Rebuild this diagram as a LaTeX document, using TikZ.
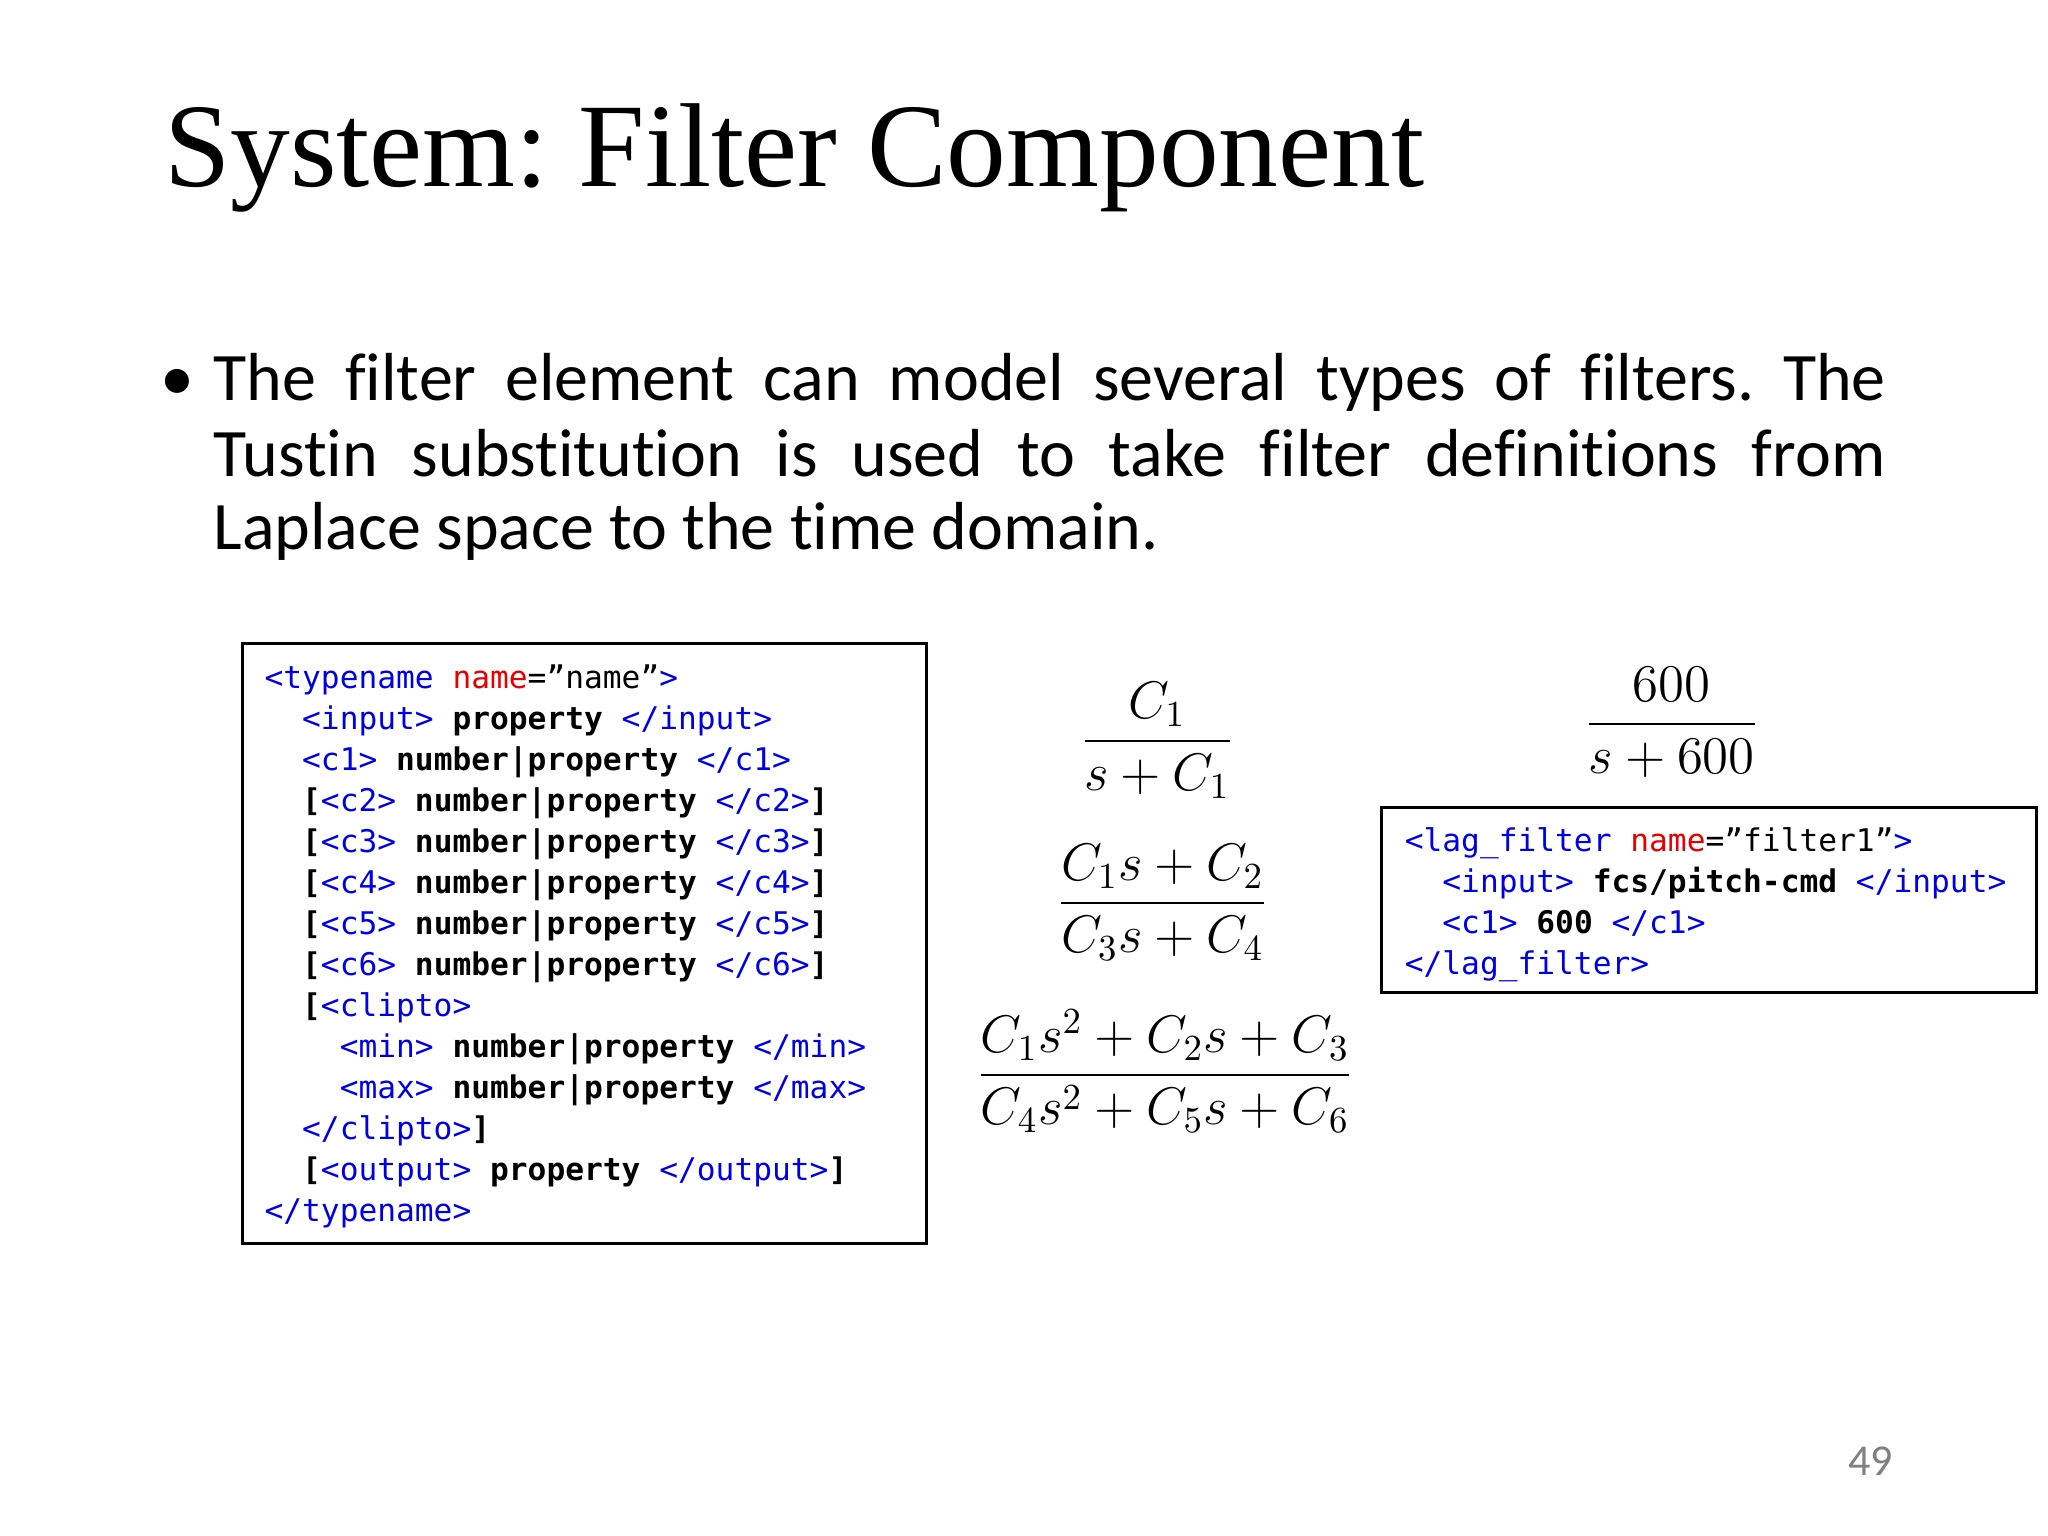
\documentclass[tikz,border=0pt]{standalone}
\usepackage{fontspec}
\setmainfont{Liberation Serif}
\newfontfamily\bodyfont[Ligatures=NoCommon]{Carlito}
\newfontfamily\codefont{DejaVu Sans Mono}
\definecolor{tagblue}{RGB}{0,0,230}
\definecolor{attrred}{RGB}{230,0,0}
\definecolor{pgray}{RGB}{128,128,128}
\newcommand\tg[1]{\textcolor{tagblue}{#1}}
\newcommand\at[1]{\textcolor{attrred}{#1}}
\newcommand\bd[1]{\textbf{#1}}
\tikzset{
 codeline/.style={anchor=base west,inner sep=0pt,font=\codefont\fontsize{8.5}{10}\selectfont},
 bodyline/.style={anchor=base west,inner sep=0pt,font=\bodyfont\fontsize{18.5}{20}\selectfont},
 codebox/.style={draw=black,line width=0.8pt},
 fracnode/.style={inner sep=0pt,font=\fontsize{14}{17}\selectfont}
}
\begin{document}
\frenchspacing
\begin{tikzpicture}[x=0.0125cm,y=-0.0125cm]
\useasboundingbox[fill=white] (0,0) rectangle (1568,1176);
\node[anchor=base west,inner sep=0pt,font=\fontsize{32.5}{38}\selectfont] (title) at (125,143) {System: Filter Component};
\node[bodyline] (bul) at (122,307) {•};
\node[bodyline] (l1) at (163,307) {\makebox[16cm][s]{The filter element can model several types of filters. The}};
\node[bodyline] (l2) at (163,365) {\makebox[16cm][s]{Tustin substitution is used to take filter definitions from}};
\node[bodyline] (l3) at (163,421) {Laplace space to the time domain.};
% left box
\draw[codebox] (186,493) rectangle (709,952);
\node[codeline] (c1) at (202,527) {\tg{<typename} \at{name}=”name”\tg{>}};
\node[codeline] (c2) at (202,558.4) {\ \ \tg{<input>} \bd{property} \tg{</input>}};
\node[codeline] (c3) at (202,589.8) {\ \ \tg{<c1>} \bd{number|property} \tg{</c1>}};
\node[codeline] (c4) at (202,621.2) {\ \ \bd{[}\tg{<c2>} \bd{number|property} \tg{</c2>}\bd{]}};
\node[codeline] (c5) at (202,652.6) {\ \ \bd{[}\tg{<c3>} \bd{number|property} \tg{</c3>}\bd{]}};
\node[codeline] (c6) at (202,684) {\ \ \bd{[}\tg{<c4>} \bd{number|property} \tg{</c4>}\bd{]}};
\node[codeline] (c7) at (202,715.4) {\ \ \bd{[}\tg{<c5>} \bd{number|property} \tg{</c5>}\bd{]}};
\node[codeline] (c8) at (202,746.8) {\ \ \bd{[}\tg{<c6>} \bd{number|property} \tg{</c6>}\bd{]}};
\node[codeline] (c9) at (202,778.2) {\ \ \bd{[}\tg{<clipto>}};
\node[codeline] (c10) at (202,809.6) {\ \ \ \ \tg{<min>} \bd{number|property} \tg{</min>}};
\node[codeline] (c11) at (202,841) {\ \ \ \ \tg{<max>} \bd{number|property} \tg{</max>}};
\node[codeline] (c12) at (202,872.4) {\ \ \tg{</clipto>}\bd{]}};
\node[codeline] (c13) at (202,903.8) {\ \ \bd{[}\tg{<output>} \bd{property} \tg{</output>}\bd{]}};
\node[codeline] (c14) at (202,935.2) {\tg{</typename>}};
% right box
\draw[codebox] (1058,618) rectangle (1559,760);
\node[codeline] (r1) at (1075,652) {\tg{<lag\_filter} \at{name}=”filter1”\tg{>}};
\node[codeline] (r2) at (1075,683.3) {\ \ \tg{<input>} \bd{fcs/pitch-cmd} \tg{</input>}};
\node[codeline] (r3) at (1075,714.6) {\ \ \tg{<c1>} \bd{600} \tg{</c1>}};
\node[codeline] (r4) at (1075,745.9) {\tg{</lag\_filter>}};
% fractions
\node[fracnode] (f1) at (886,567) {$\displaystyle\frac{C_1}{s+C_1}$};
\node[fracnode] (f2) at (890,691) {$\displaystyle\frac{C_1s+C_2}{C_3s+C_4}$};
\node[fracnode] (f3) at (892,820) {$\displaystyle\frac{C_1s^2+C_2s+C_3}{C_4s^2+C_5s+C_6}$};
\node[fracnode] (f4) at (1280,553) {$\displaystyle\frac{600}{s+600}$};
\node[anchor=base,inner sep=0pt,text=pgray,font=\bodyfont\fontsize{12}{14}\selectfont] (pg) at (1432,1130) {49};
\end{tikzpicture}
\end{document}
